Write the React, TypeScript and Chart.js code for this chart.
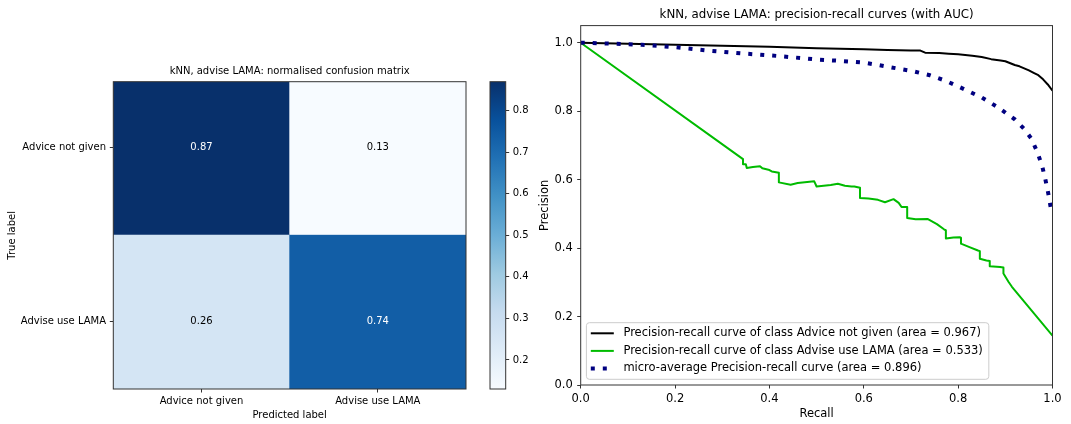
import React, { useEffect, useRef } from 'react';
import { Chart, registerables } from 'chart.js';

Chart.register(...registerables);

const FONT = "'DejaVu Sans', 'Liberation Sans', sans-serif";

// ---------- Confusion matrix data ----------
const cmClassLabels = ['Advice not given', 'Advise use LAMA'];
const cmRowAdviceNotGiven = [0.87, 0.13];
const cmRowAdviseUseLama = [0.26, 0.74];
const cmRows = [cmRowAdviceNotGiven, cmRowAdviseUseLama];
const colorbarMin = 0.13;
const colorbarMax = 0.87;
const colorbarTicks = [0.2, 0.3, 0.4, 0.5, 0.6, 0.7, 0.8];

// ---------- Precision-recall data ----------
const recallAdviceNotGiven = [0, 0.1, 0.2, 0.3, 0.4, 0.5, 0.6, 0.65, 0.7, 0.72, 0.73, 0.76, 0.78, 0.8, 0.83, 0.85, 0.87, 0.89, 0.9, 0.92, 0.93, 0.95, 0.96, 0.97, 0.98, 0.99, 1.0];
const precisionAdviceNotGiven = [1.0, 0.997, 0.994, 0.991, 0.988, 0.984, 0.981, 0.979, 0.977, 0.977, 0.971, 0.97, 0.968, 0.966, 0.962, 0.958, 0.952, 0.948, 0.946, 0.935, 0.931, 0.919, 0.912, 0.905, 0.893, 0.878, 0.86];

const recallAdviseUseLama = [0, 0.344, 0.344, 0.35, 0.352, 0.365, 0.38, 0.385, 0.4, 0.405, 0.42, 0.42, 0.445, 0.46, 0.475, 0.495, 0.5, 0.515, 0.53, 0.545, 0.56, 0.574, 0.58, 0.592, 0.592, 0.61, 0.63, 0.645, 0.663, 0.674, 0.68, 0.692, 0.692, 0.71, 0.735, 0.755, 0.77, 0.774, 0.774, 0.79, 0.803, 0.806, 0.806, 0.824, 0.842, 0.846, 0.846, 0.86, 0.867, 0.867, 0.889, 0.896, 0.896, 0.907, 0.914, 1.0];
const precisionAdviseUseLama = [1.0, 0.66, 0.645, 0.645, 0.634, 0.637, 0.639, 0.633, 0.628, 0.624, 0.62, 0.592, 0.585, 0.59, 0.592, 0.595, 0.58, 0.582, 0.584, 0.588, 0.582, 0.58, 0.58, 0.576, 0.546, 0.545, 0.541, 0.534, 0.543, 0.532, 0.52, 0.52, 0.488, 0.484, 0.485, 0.47, 0.455, 0.452, 0.428, 0.431, 0.432, 0.43, 0.413, 0.403, 0.393, 0.391, 0.369, 0.364, 0.362, 0.347, 0.345, 0.343, 0.326, 0.301, 0.287, 0.144];

const recallMicro = [0, 0.05, 0.13, 0.2, 0.27, 0.35, 0.42, 0.5, 0.55, 0.6, 0.63, 0.67, 0.7, 0.74, 0.775, 0.81, 0.85, 0.88, 0.9, 0.92, 0.94, 0.955, 0.968, 0.978, 0.985, 0.991, 0.996, 1.0];
const precisionMicro = [1.0, 0.998, 0.994, 0.987, 0.977, 0.968, 0.961, 0.951, 0.947, 0.942, 0.935, 0.925, 0.918, 0.905, 0.888, 0.866, 0.84, 0.815, 0.796, 0.776, 0.748, 0.72, 0.68, 0.64, 0.6, 0.56, 0.52, 0.5];

const prTicks = [0, 0.2, 0.4, 0.6, 0.8, 1.0];
const prLegendLabels = [
  'Precision-recall curve of class Advice not given (area = 0.967)',
  'Precision-recall curve of class Advise use LAMA (area = 0.533)',
  'micro-average Precision-recall curve (area = 0.896)',
];

// ---------- Styling helpers ----------
const BLUES = ['#f7fbff', '#deebf7', '#c6dbef', '#9ecae1', '#6baed6', '#4292c6', '#2171b5', '#08519c', '#08306b'];

function hexToRgb(h: string) {
  return [parseInt(h.slice(1, 3), 16), parseInt(h.slice(3, 5), 16), parseInt(h.slice(5, 7), 16)];
}
function blues(t: number) {
  const tt = Math.max(0, Math.min(1, t)) * (BLUES.length - 1);
  const i = Math.min(BLUES.length - 2, Math.floor(tt));
  const f = tt - i;
  const a = hexToRgb(BLUES[i]);
  const b = hexToRgb(BLUES[i + 1]);
  const c = a.map((v, k) => Math.round(v + (b[k] - v) * f));
  return `rgb(${c[0]},${c[1]},${c[2]})`;
}

const AXIS_COLOR = '#333';

const framePlugin = {
  id: 'frame',
  afterDatasetsDraw(chart: any) {
    const { ctx, chartArea: a } = chart;
    ctx.save();
    ctx.strokeStyle = AXIS_COLOR;
    ctx.lineWidth = 1;
    ctx.strokeRect(a.left, a.top, a.right - a.left, a.bottom - a.top);
    ctx.restore();
  },
};

const plotTitlePlugin = {
  id: 'plotTitle',
  afterDraw(chart: any, _args: any, opts: any) {
    if (!opts || !opts.text) return;
    const { ctx, chartArea: a } = chart;
    ctx.save();
    ctx.font = `${opts.size}px ${FONT}`;
    ctx.fillStyle = '#000';
    ctx.textAlign = 'center';
    ctx.textBaseline = 'middle';
    ctx.fillText(opts.text, (a.left + a.right) / 2, opts.y);
    ctx.restore();
  },
};

const cellTextPlugin = {
  id: 'cellText',
  afterDatasetsDraw(chart: any) {
    const { ctx } = chart;
    const yScale = chart.scales.y;
    ctx.save();
    ctx.font = `10px ${FONT}`;
    ctx.textAlign = 'center';
    ctx.textBaseline = 'middle';
    const thresh = Math.max(...cmRows.flat()) / 2;
    cmRows.forEach((row, i) => {
      const meta = chart.getDatasetMeta(i);
      row.forEach((v, j) => {
        const bar = meta.data[j];
        ctx.fillStyle = v > thresh ? '#ffffff' : '#000000';
        ctx.fillText(v.toFixed(2), bar.x, yScale.getPixelForValue(i));
      });
    });
    ctx.restore();
  },
};

const prLegendPlugin = {
  id: 'prLegend',
  afterDraw(chart: any) {
    const { ctx, chartArea: a } = chart;
    ctx.save();
    const size = 11.5;
    ctx.font = `${size}px ${FONT}`;
    const maxW = Math.max(...prLegendLabels.map((t) => ctx.measureText(t).width));
    const rowH = 17.6;
    const boxL = a.left + 5.7;
    const boxB = a.bottom - 5.7;
    const boxH = 56.6;
    const boxT = boxB - boxH;
    const boxW = 37 + maxW + 6;
    const r = 3;
    ctx.beginPath();
    ctx.moveTo(boxL + r, boxT);
    ctx.lineTo(boxL + boxW - r, boxT);
    ctx.arcTo(boxL + boxW, boxT, boxL + boxW, boxT + r, r);
    ctx.lineTo(boxL + boxW, boxB - r);
    ctx.arcTo(boxL + boxW, boxB, boxL + boxW - r, boxB, r);
    ctx.lineTo(boxL + r, boxB);
    ctx.arcTo(boxL, boxB, boxL, boxB - r, r);
    ctx.lineTo(boxL, boxT + r);
    ctx.arcTo(boxL, boxT, boxL + r, boxT, r);
    ctx.closePath();
    ctx.fillStyle = 'rgba(255,255,255,0.85)';
    ctx.fill();
    ctx.strokeStyle = '#cccccc';
    ctx.lineWidth = 1;
    ctx.stroke();
    chart.data.datasets.forEach((ds: any, i: number) => {
      const y = boxT + 10.6 + i * rowH;
      ctx.beginPath();
      ctx.setLineDash(ds.borderDash || []);
      ctx.lineCap = 'butt';
      ctx.strokeStyle = ds.borderColor;
      ctx.lineWidth = ds.borderWidth;
      ctx.moveTo(boxL + 4.4, y);
      ctx.lineTo(boxL + 27.4, y);
      ctx.stroke();
      ctx.setLineDash([]);
      ctx.fillStyle = '#000';
      ctx.textAlign = 'left';
      ctx.textBaseline = 'middle';
      ctx.fillText(prLegendLabels[i], boxL + 37, y);
    });
    ctx.restore();
  },
};

const tickGrid = (len: number) => ({
  display: true,
  drawOnChartArea: false,
  drawTicks: true,
  tickLength: len,
  color: AXIS_COLOR,
  lineWidth: 1,
});

function confusionConfig(): any {
  const font = { family: FONT, size: 10 };
  return {
    type: 'bar',
    data: {
      labels: cmClassLabels,
      datasets: cmRows.map((row, i) => ({
        data: row.map(() => [i - 0.5, i + 0.5]),
        backgroundColor: row.map((v) => blues((v - colorbarMin) / (colorbarMax - colorbarMin))),
        borderWidth: 0,
        barPercentage: 1,
        categoryPercentage: 1,
        grouped: false,
        clip: 0,
      })),
    },
    options: {
      responsive: false,
      animation: false,
      events: [],
      layout: { padding: { top: 81.7, right: 14, left: 0, bottom: 0 } },
      plugins: {
        legend: { display: false },
        tooltip: { enabled: false },
        plotTitle: { text: 'kNN, advise LAMA: normalised confusion matrix', y: 71.7, size: 10 },
      },
      scales: {
        x: {
          type: 'category',
          offset: true,
          grid: { ...tickGrid(3.5), offset: false },
          border: { display: false },
          ticks: { font, color: '#000', padding: 2.5, maxRotation: 0, autoSkip: false },
          title: { display: true, text: 'Predicted label', font, color: '#000', padding: { top: 0, bottom: 3 } },
          afterFit: (s: any) => { s.height = 35; },
        },
        y: {
          type: 'linear',
          reverse: true,
          min: -0.38,
          max: 1.39,
          afterBuildTicks: (s: any) => { s.ticks = cmClassLabels.map((_, i) => ({ value: i })); },
          grid: tickGrid(3.5),
          border: { display: false },
          ticks: { font, color: '#000', padding: 3.8, callback: (v: number) => cmClassLabels[v] },
          title: { display: true, text: 'True label', font, color: '#000', padding: { top: 6, bottom: 0 } },
          afterFit: (s: any) => { s.width = 113.3; },
        },
      },
    },
    plugins: [cellTextPlugin, framePlugin, plotTitlePlugin],
  };
}

function colorbarConfig(): any {
  const font = { family: FONT, size: 10 };
  return {
    type: 'bar',
    data: {
      labels: [''],
      datasets: [
        {
          data: [[colorbarMin, colorbarMax]],
          backgroundColor: (ctx: any) => {
            const ca = ctx.chart.chartArea;
            if (!ca) return blues(0.5);
            const g = ctx.chart.ctx.createLinearGradient(0, ca.bottom, 0, ca.top);
            BLUES.forEach((c, i) => g.addColorStop(i / (BLUES.length - 1), c));
            return g;
          },
          borderWidth: 0,
          barPercentage: 1,
          categoryPercentage: 1,
          clip: 0,
        },
      ],
    },
    options: {
      responsive: false,
      animation: false,
      events: [],
      layout: { padding: { top: 81.7, right: 0, left: 20, bottom: 35 } },
      plugins: { legend: { display: false }, tooltip: { enabled: false } },
      scales: {
        x: { display: false },
        y: {
          type: 'linear',
          position: 'right',
          min: colorbarMin,
          max: colorbarMax,
          afterBuildTicks: (s: any) => { s.ticks = colorbarTicks.map((v) => ({ value: v })); },
          grid: tickGrid(3.5),
          border: { display: false },
          ticks: { font, color: '#000', padding: 3.5, callback: (v: number) => v.toFixed(1) },
          afterFit: (s: any) => { s.width = 24.3; },
        },
      },
    },
    plugins: [framePlugin],
  };
}

function prConfig(): any {
  const font = { family: FONT, size: 11.5 };
  const toPts = (xs: number[], ys: number[]) => xs.map((x, i) => ({ x, y: ys[i] }));
  return {
    type: 'line',
    data: {
      datasets: [
        {
          label: prLegendLabels[0],
          data: toPts(recallAdviceNotGiven, precisionAdviceNotGiven),
          borderColor: '#000000',
          borderWidth: 2,
          pointRadius: 0,
          tension: 0,
          clip: 0,
          order: 2,
          borderJoinStyle: 'round',
        },
        {
          label: prLegendLabels[1],
          data: toPts(recallAdviseUseLama, precisionAdviseUseLama),
          borderColor: '#00bb00',
          borderWidth: 2,
          pointRadius: 0,
          tension: 0,
          clip: 0,
          order: 1,
          borderJoinStyle: 'round',
        },
        {
          label: prLegendLabels[2],
          data: toPts(recallMicro, precisionMicro),
          borderColor: '#000080',
          borderWidth: 4,
          borderDash: [4, 8],
          borderCapStyle: 'butt',
          pointRadius: 0,
          tension: 0,
          clip: 0,
          order: 0,
        },
      ],
    },
    options: {
      responsive: false,
      animation: false,
      events: [],
      layout: { padding: { top: 25.6, right: 18.5, left: 0, bottom: 0 } },
      plugins: {
        legend: { display: false },
        tooltip: { enabled: false },
        plotTitle: { text: 'kNN, advise LAMA: precision-recall curves (with AUC)', y: 15, size: 11.8 },
      },
      scales: {
        x: {
          type: 'linear',
          min: 0,
          max: 1,
          afterBuildTicks: (s: any) => { s.ticks = prTicks.map((v) => ({ value: v })); },
          grid: tickGrid(3.5),
          border: { display: false },
          ticks: { font, color: '#000', padding: 3.5, maxRotation: 0, callback: (v: number) => v.toFixed(1) },
          title: { display: true, text: 'Recall', font, color: '#000', padding: { top: 0, bottom: 3.1 } },
          afterFit: (s: any) => { s.height = 39; },
        },
        y: {
          type: 'linear',
          min: 0,
          max: 1.05,
          afterBuildTicks: (s: any) => { s.ticks = prTicks.map((v) => ({ value: v })); },
          grid: tickGrid(3.5),
          border: { display: false },
          ticks: { font, color: '#000', padding: 4.5, callback: (v: number) => v.toFixed(1) },
          title: { display: true, text: 'Precision', font, color: '#000', padding: { top: 8.1, bottom: 0 } },
          afterFit: (s: any) => { s.width = 50.7; },
        },
      },
    },
    plugins: [framePlugin, plotTitlePlugin, prLegendPlugin],
  };
}

export default function App() {
  const cmRef = useRef<HTMLCanvasElement>(null);
  const cbRef = useRef<HTMLCanvasElement>(null);
  const prRef = useRef<HTMLCanvasElement>(null);

  useEffect(() => {
    const charts = [
      new Chart(cmRef.current as HTMLCanvasElement, confusionConfig()),
      new Chart(cbRef.current as HTMLCanvasElement, colorbarConfig()),
      new Chart(prRef.current as HTMLCanvasElement, prConfig()),
    ];
    return () => charts.forEach((c) => c.destroy());
  }, []);

  const abs = (left: number, w: number): React.CSSProperties => ({
    position: 'absolute', left, top: 0, width: w, height: 424, display: 'block',
  });

  return (
    <div style={{ position: 'absolute', left: 0, top: 0, width: 1071, height: 424, background: '#fff', overflow: 'hidden' }}>
      <canvas ref={cmRef} width={480} height={424} style={abs(0, 480)} />
      <canvas ref={cbRef} width={60} height={424} style={abs(470, 60)} />
      <canvas ref={prRef} width={541} height={424} style={abs(530, 541)} />
    </div>
  );
}
